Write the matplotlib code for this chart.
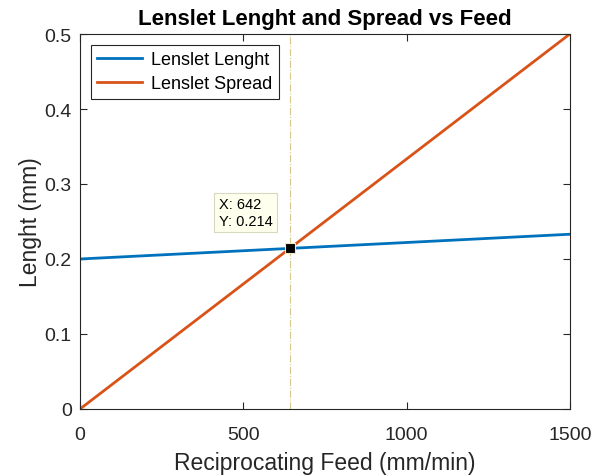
import numpy as np
import matplotlib
matplotlib.use('Agg')
import matplotlib.pyplot as plt

plt.rcParams['font.family'] = ['Liberation Sans', 'DejaVu Sans']

# data
feed = [0, 1500]
lenght = [0.2, 0.233]
spread = [0, 0.5]
tip_x = 642
tip_y = 0.214
xticks = [0, 500, 1000, 1500]
yticks = [0, 0.1, 0.2, 0.3, 0.4, 0.5]

fig = plt.figure(figsize=(6.03, 4.77), dpi=100)
ax = fig.add_axes([0.1327, 0.1405, 0.8123, 0.7861])

ax.axvline(tip_x, color='#d9c88c', lw=0.8, ls='-.', zorder=1)
ax.plot(feed, lenght, color='#0072BD', lw=2, label='Lenslet Lenght', zorder=2)
ax.plot(feed, spread, color='#D95319', lw=2, label='Lenslet Spread', zorder=2)
ax.plot([tip_x], [tip_y], marker='s', ms=7, color='black', mec='#f0ecc8', mew=0.8, zorder=5)
ax.annotate('X: %d\nY: %.3f' % (tip_x, tip_y), xy=(tip_x, tip_y), xytext=(-51, 15),
            textcoords='offset points', fontsize=10.5, va='bottom', ha='left', linespacing=1.25,
            bbox=dict(boxstyle='square,pad=0.3', fc='#ffffee', ec='#d8d8c0', lw=0.8), zorder=6)

ax.set_xlim(0, 1500)
ax.set_ylim(0, 0.5)
ax.set_xticks(xticks)
ax.set_yticks(yticks)
ax.set_yticklabels(['0', '0.1', '0.2', '0.3', '0.4', '0.5'])
ax.tick_params(direction='in', top=True, right=True, labelsize=14, length=5, pad=6,
               color='#262626', labelcolor='#262626')
ax.tick_params(axis='x', pad=12)
for s in ax.spines.values():
    s.set_color('#262626')
    s.set_linewidth(0.8)

ax.set_title('Lenslet Lenght and Spread vs Feed', fontsize=16, fontweight='bold', pad=7)
ax.set_xlabel('Reciprocating Feed (mm/min)', fontsize=16.5, color='#262626', labelpad=6)
ax.set_ylabel('Lenght (mm)', fontsize=16.5, color='#262626', labelpad=2)
leg = ax.legend(loc='upper left', fontsize=13, fancybox=False, edgecolor='#262626',
                framealpha=1, handlelength=2.5, borderaxespad=0.6, labelspacing=0.4,
                handletextpad=0.5, borderpad=0.35)
leg.get_frame().set_linewidth(0.8)

fig.savefig('out.png', dpi=100)
